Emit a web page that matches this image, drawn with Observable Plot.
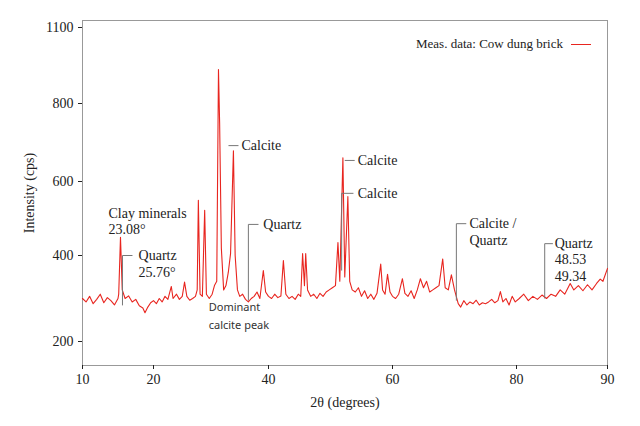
<!DOCTYPE html>
<html><head><meta charset="utf-8">
<script src="https://cdn.jsdelivr.net/npm/d3@7"></script>
<script src="https://cdn.jsdelivr.net/npm/@observablehq/plot@0.6"></script>
<style>
body{margin:0;background:#fff;}
#wrap{position:relative;width:640px;height:426px;}
#legend{position:absolute;left:416px;top:36px;font:13px "Liberation Serif",serif;color:#222;display:flex;align-items:center;gap:8px;}
#legend span.l{display:inline-block;width:20px;height:0;border-top:1.2px solid #e8251f;}
</style></head><body>
<div id="wrap"><div id="legend">Meas. data: Cow dung brick <span class="l"></span></div></div>
<script>
const seriesName = "Meas. data: Cow dung brick";
const twoTheta = [10,10.5,11,11.5,12,12.5,13,13.5,14,14.5,15,15.1,15.35,15.6,16,16.5,17,17.5,18,18.5,18.8,19.2,19.6,20,20.5,21,21.5,22,22.5,23.1,23.4,24,24.5,25,25.4,25.8,26.3,26.8,27.3,27.6,27.8,28.1,28.5,28.9,29.2,29.7,30.2,30.6,31.0,31.3,31.5,31.8,32.2,32.6,33.0,33.4,33.9,34.2,34.6,35.0,35.5,36,36.5,37,37.5,38,38.5,39.1,39.5,40,40.5,41,41.5,42,42.4,42.8,43.3,43.8,44.3,44.8,45.2,45.5,45.8,46.0,46.3,46.8,47.3,47.8,48.3,48.8,49.3,49.8,50.3,50.8,51.2,51.5,52.0,52.3,52.8,53.1,53.5,54,54.5,55,55.5,56,56.5,57,57.5,58.1,58.4,58.8,59.2,59.6,60,60.5,61,61.6,62,62.5,63,63.5,64,64.5,65,65.5,66,66.5,67,67.5,68.1,68.5,69,69.5,70,70.6,71,71.5,72,72.5,73,73.5,74,74.5,75,75.5,76,76.5,77,77.4,77.8,78.3,78.8,79.3,79.8,80.3,80.8,81.3,81.8,82.3,82.8,83.3,83.8,84.3,84.8,85.3,85.9,86.3,86.8,87.3,87.8,88.3,88.8,89.2,89.5,90];
const intensity = [300,292,305,288,298,310,290,302,295,285,300,310,449,320,300,306,292,298,283,278,267,280,290,295,288,300,292,305,298,328,300,310,298,305,338,305,296,300,305,320,549,310,305,522,310,300,310,330,340,934,751,420,320,330,360,405,679,400,320,305,310,298,292,300,305,315,300,365,315,305,300,310,302,306,388,310,300,305,298,310,305,405,330,405,320,305,310,300,312,305,315,320,325,330,435,340,661,350,559,340,320,315,325,305,318,300,310,298,312,380,320,310,356,315,305,300,310,346,312,305,318,300,320,346,325,340,315,320,325,330,392,325,320,355,320,288,280,295,285,292,288,296,285,290,288,292,298,290,295,316,292,300,285,305,292,300,310,295,305,298,308,300,310,305,320,310,335,320,330,318,332,320,335,345,340,370];
const xTicks = [10,20,40,60,80,90];
const yTicks = [200,400,600,800,1100];

const labels = [
  {x:13.66,y:513,t:"Clay minerals"},{x:13.66,y:470,t:"23.08°"},
  {x:17.9,y:400,t:"Quartz"},{x:17.9,y:360,t:"25.76°"},
  {x:35.3,y:692,t:"Calcite"},
  {x:39.1,y:484,t:"Quartz"},
  {x:54.4,y:654,t:"Calcite"},{x:54.4,y:568,t:"Calcite"},
  {x:72.4,y:486,t:"Calcite /"},{x:72.4,y:441,t:"Quartz"},
  {x:84.2,y:432,t:"Quartz"},{x:84.2,y:391,t:"48.53"},{x:84.2,y:351,t:"49.34"}
];
const smallLabels = [{x:29.6,y:280,t:"Dominant"},{x:29.6,y:237,t:"calcite peak"}];
const leaders = [
  {x1:15.63,y1:284,x2:15.63,y2:400},{x1:15.63,y1:400,x2:17.04,y2:400},
  {x1:33.04,y1:692,x2:34.78,y2:692},
  {x1:36.5,y1:295,x2:36.5,y2:484},{x1:36.5,y1:484,x2:38.26,y2:484},
  {x1:52.3,y1:654,x2:53.9,y2:654},
  {x1:51.8,y1:365,x2:51.8,y2:568},{x1:51.8,y1:568,x2:53.7,y2:568},
  {x1:70.3,y1:295,x2:70.3,y2:486},{x1:70.3,y1:486,x2:71.9,y2:486},
  {x1:83.1,y1:300,x2:83.1,y2:432},{x1:83.1,y1:432,x2:84.0,y2:432}
];
const data = twoTheta.map((x,i)=>({x,y:intensity[i]}));

// the reference axes are not evenly spaced: warp values through piecewise-linear maps
const xWarp = d3.scaleLinear().domain(xTicks).range([82,153,268,392,516,607]);
const yWarp = d3.scaleLinear().domain(yTicks).range([341,255,181,103,27]);
const serif = "'Liberation Serif',serif";

const chart = Plot.plot({
  width:640,height:426,
  marginLeft:82,marginRight:33,marginTop:20,marginBottom:61,
  style:{fontFamily:serif,fontSize:"14px",color:"#222"},
  x:{transform:xWarp,domain:[82,607],range:[82,607],label:null},
  y:{transform:yWarp,domain:[365,20],range:[365,20],label:null},
  marks:[
    Plot.frame({stroke:"#999"}),
    Plot.axisX(xTicks,{tickSize:4,tickFormat:d=>String(d),fontSize:14,fontFamily:serif}),
    Plot.axisY(yTicks,{tickSize:4,tickFormat:d=>String(d),fontSize:14,fontFamily:serif}),
    Plot.line(data,{x:"x",y:"y",stroke:"#e8251f",strokeWidth:1.1}),
    Plot.link(leaders,{x1:"x1",y1:"y1",x2:"x2",y2:"y2",stroke:"#777",strokeWidth:1}),
    Plot.text(labels,{x:"x",y:"y",text:"t",textAnchor:"start",fontSize:14,fill:"#222",fontFamily:serif}),
    Plot.text(smallLabels,{x:"x",y:"y",text:"t",textAnchor:"start",fontSize:11,fill:"#333",fontFamily:"'Noto Sans',sans-serif"})
  ]
});
document.getElementById("wrap").prepend(chart);
chart.style.position="absolute";chart.style.left="0";chart.style.top="0";
const xl=document.createElement("div");xl.textContent="2θ (degrees)";
xl.style.cssText="position:absolute;left:0;width:690px;text-align:center;top:395px;font:14px 'Liberation Serif',serif;color:#222";
const yl=document.createElement("div");yl.textContent="Intensity (cps)";
yl.style.cssText="position:absolute;left:-30px;top:185px;width:120px;text-align:center;transform:rotate(-90deg);font:14px 'Liberation Serif',serif;color:#222";
document.getElementById("wrap").append(xl,yl);
</script>
</body></html>
